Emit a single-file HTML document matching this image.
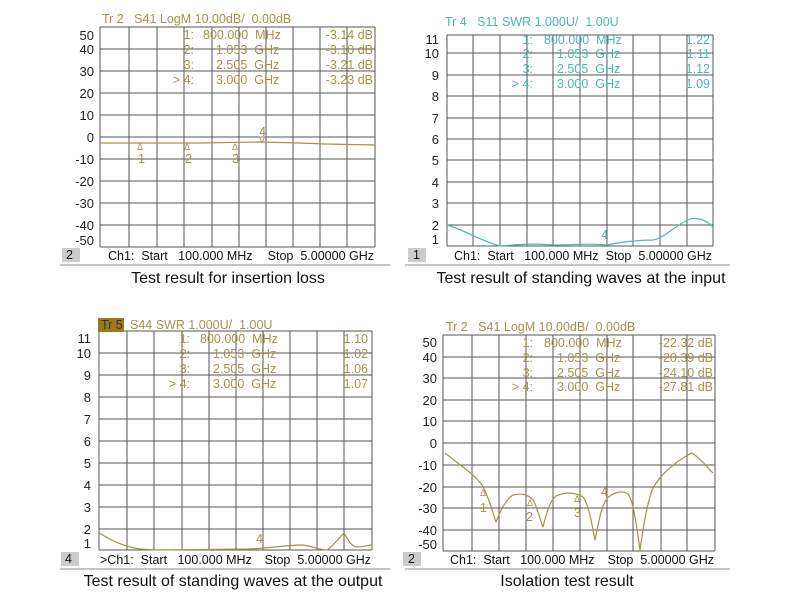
<!DOCTYPE html>
<html><head><meta charset="utf-8"><style>
html,body{margin:0;padding:0;background:#fff}
svg{display:block;font-family:"Liberation Sans",sans-serif}
text{white-space:pre}
</style></head><body>
<svg width="790" height="601" viewBox="0 0 790 601" xmlns="http://www.w3.org/2000/svg" xml:space="preserve">
<rect width="790" height="601" fill="#fff"/>
<g stroke="#555" stroke-width="1" fill="none">
<path d="M100 27V247M129 27V247M157 27V247M184 27V247M212 27V247M239 27V247M266 27V247M293 27V247M320 27V247M347 27V247M375 27V247"/>
<path d="M100 27H375M100 49H375M100 71H375M100 93H375M100 115H375M100 137H375M100 159H375M100 181H375M100 203H375M100 225H375M100 247H375"/>
<path d="M447 35V246M473 35V246M500 35V246M527 35V246M553 35V246M580 35V246M607 35V246M633 35V246M660 35V246M687 35V246M713 35V246"/>
<path d="M447 35H713M447 53H713M447 75H713M447 96H713M447 118H713M447 139H713M447 160H713M447 182H713M447 203H713M447 225H713M447 246H713"/>
<path d="M99 331V550M127 331V550M154 331V550M182 331V550M209 331V550M236 331V550M263 331V550M290 331V550M317 331V550M344 331V550M372 331V550"/>
<path d="M99 331H372M99 353H372M99 375H372M99 397H372M99 419H372M99 441H372M99 463H372M99 485H372M99 507H372M99 529H372M99 550H372"/>
<path d="M443 335V551M472 335V551M499 335V551M526 335V551M553 335V551M580 335V551M607 335V551M633 335V551M661 335V551M687 335V551M715 335V551"/>
<path d="M443 335H715M443 357H715M443 378H715M443 400H715M443 421H715M443 443H715M443 465H715M443 487H715M443 508H715M443 530H715M443 551H715"/>
<path d="M60 265H390M405 265H730M60 569H390M405 569H730" stroke="#888"/>
</g>

<g fill="none" stroke-width="1.2" stroke-linejoin="round">
<polyline stroke="#a8914a" points="100,143 200,143 260,142 300,143 325,144 375,145"/>
<path stroke="#4bb8b0" d="M447,225 C465,230 478,240 500,246 C515,245 530,243 553,245 C570,245 590,243 607,245 C620,242 640,240 653,240 C665,238 675,225 690,219 C700,217 708,222 713,227"/>
<path stroke="#a8914a" d="M99,533 C108,538 120,546 140,549 L157,550 L250,549 C270,548 290,545 300,545 C310,545 320,550 327,550 C333,546 340,537 344,533 C348,540 352,547 357,547 C364,547 368,545 372,545"/>
<path stroke="#a8914a" d="M445,453 C460,465 475,475 482,485 C488,495 492,510 496,522 C500,512 505,500 513,495 C520,493 528,494 533,500 C537,506 540,520 543,527 C546,515 550,500 556,496 C565,492 575,492 583,497 C589,505 592,525 595,540 C598,525 601,508 606,500 C612,492 622,490 628,494 C634,502 637,530 640,550 C643,530 646,508 652,490 C660,475 670,468 677,462 C685,457 690,453 692,453 C700,458 706,466 713,473"/>
</g>

<g font-size="13" fill="#222" text-anchor="end">
<text x="94" y="40">50</text><text x="94" y="54">40</text><text x="94" y="76">30</text><text x="94" y="98">20</text><text x="94" y="120">10</text><text x="94" y="142">0</text><text x="94" y="164">-10</text><text x="94" y="186">-20</text><text x="94" y="208">-30</text><text x="94" y="230">-40</text><text x="94" y="245">-50</text>
<text x="439" y="44">11</text><text x="439" y="58">10</text><text x="439" y="80">9</text><text x="439" y="101">8</text><text x="439" y="123">7</text><text x="439" y="144">6</text><text x="439" y="165">5</text><text x="439" y="187">4</text><text x="439" y="208">3</text><text x="439" y="230">2</text><text x="439" y="244">1</text>
<text x="91" y="343">11</text><text x="91" y="358">10</text><text x="91" y="380">9</text><text x="91" y="402">8</text><text x="91" y="424">7</text><text x="91" y="446">6</text><text x="91" y="468">5</text><text x="91" y="490">4</text><text x="91" y="512">3</text><text x="91" y="534">2</text><text x="91" y="548">1</text>
<text x="437" y="347">50</text><text x="437" y="362">40</text><text x="437" y="383">30</text><text x="437" y="405">20</text><text x="437" y="426">10</text><text x="437" y="448">0</text><text x="437" y="470">-10</text><text x="437" y="492">-20</text><text x="437" y="513">-30</text><text x="437" y="535">-40</text><text x="437" y="549">-50</text>
</g>

<g font-size="12.5" fill="#a8914a">
<text x="102" y="23">Tr 2   S41 LogM 10.00dB/  0.00dB</text>
<g text-anchor="end"><text x="194" y="39">1:</text><text x="194" y="54">2:</text><text x="194" y="69">3:</text><text x="194" y="84">&gt; 4:</text>
<text x="373" y="39">-3.14 dB</text><text x="373" y="54">-3.10 dB</text><text x="373" y="69">-3.21 dB</text><text x="373" y="84">-3.23 dB</text></g>
<text x="203" y="39">800.000  MHz</text><text x="216" y="54">1.053  GHz</text><text x="216" y="69">2.505  GHz</text><text x="216" y="84">3.000  GHz</text>
<text x="137" y="150" font-size="9">Δ</text><text x="184" y="150" font-size="9">Δ</text><text x="232" y="150" font-size="9">Δ</text>
<text x="138" y="163">1</text><text x="185" y="163">2</text><text x="232" y="163">3</text><text x="259" y="136">4</text><text x="259" y="143" font-size="9">∇</text>

<text x="130" y="329">S44 SWR 1.000U/  1.00U</text>
<g text-anchor="end"><text x="190" y="343">1:</text><text x="190" y="358">2:</text><text x="190" y="373">3:</text><text x="190" y="388">&gt; 4:</text>
<text x="368" y="343">1.10</text><text x="368" y="358">1.02</text><text x="368" y="373">1.06</text><text x="368" y="388">1.07</text></g>
<text x="200" y="343">800.000  MHz</text><text x="213" y="358">1.053  GHz</text><text x="213" y="373">2.505  GHz</text><text x="213" y="388">3.000  GHz</text>
<text x="256" y="543">4</text>

<text x="446" y="331">Tr 2   S41 LogM 10.00dB/  0.00dB</text>
<g text-anchor="end"><text x="533" y="347">1:</text><text x="533" y="362">2:</text><text x="533" y="377">3:</text><text x="533" y="391">&gt; 4:</text>
<text x="713" y="347">-22.32 dB</text><text x="713" y="362">-20.39 dB</text><text x="713" y="377">-24.10 dB</text><text x="713" y="391">-27.81 dB</text></g>
<text x="544" y="347">800.000  MHz</text><text x="557" y="362">1.053  GHz</text><text x="557" y="377">2.505  GHz</text><text x="557" y="391">3.000  GHz</text>
<text x="480" y="496" font-size="9">Δ</text><text x="527" y="506" font-size="9">Δ</text><text x="574" y="502" font-size="9">Δ</text>
<text x="480" y="512">1</text><text x="526" y="521">2</text><text x="574" y="517">3</text><text x="601" y="496">4</text>
</g>
<rect x="98" y="318" width="26" height="14" fill="#9a7a1a"/>
<text x="101" y="329" font-size="12.5" fill="#333">Tr 5</text>

<g font-size="12.5" fill="#4bb8b0">
<text x="445" y="26">Tr 4   S11 SWR 1.000U/  1.00U</text>
<g text-anchor="end"><text x="533" y="44">1:</text><text x="533" y="58">2:</text><text x="533" y="73">3:</text><text x="533" y="88">&gt; 4:</text>
<text x="710" y="44">1.22</text><text x="710" y="58">1.11</text><text x="710" y="73">1.12</text><text x="710" y="88">1.09</text></g>
<text x="544" y="44">800.000  MHz</text><text x="557" y="58">1.053  GHz</text><text x="557" y="73">2.505  GHz</text><text x="557" y="88">3.000  GHz</text>
<text x="601" y="239">4</text>
</g>

<g font-size="12.5" fill="#111">
<rect x="62" y="248" width="18" height="14" fill="#ccc"/><text x="66" y="259">2</text>
<text x="108" y="260">Ch1:  Start   100.000 MHz</text><text x="374" y="260" text-anchor="end">Stop  5.00000 GHz</text>
<rect x="408" y="248" width="18" height="14" fill="#ccc"/><text x="413" y="259">1</text>
<text x="454" y="260">Ch1:  Start   100.000 MHz</text><text x="712" y="260" text-anchor="end">Stop  5.00000 GHz</text>
<rect x="61" y="552" width="18" height="14" fill="#ccc"/><text x="65" y="563">4</text>
<text x="100" y="564">&gt;Ch1:  Start   100.000 MHz</text><text x="371" y="564" text-anchor="end">Stop  5.00000 GHz</text>
<rect x="403" y="552" width="18" height="14" fill="#ccc"/><text x="408" y="563">2</text>
<text x="450" y="564">Ch1:  Start   100.000 MHz</text><text x="714" y="564" text-anchor="end">Stop  5.00000 GHz</text>
</g>

<g font-size="16" fill="#111" text-anchor="middle">
<text x="228" y="283">Test result for insertion loss</text>
<text x="581" y="283">Test result of standing waves at the input</text>
<text x="233" y="586">Test result of standing waves at the output</text>
<text x="567" y="586">Isolation test result</text>
</g>
</svg>
</body></html>
